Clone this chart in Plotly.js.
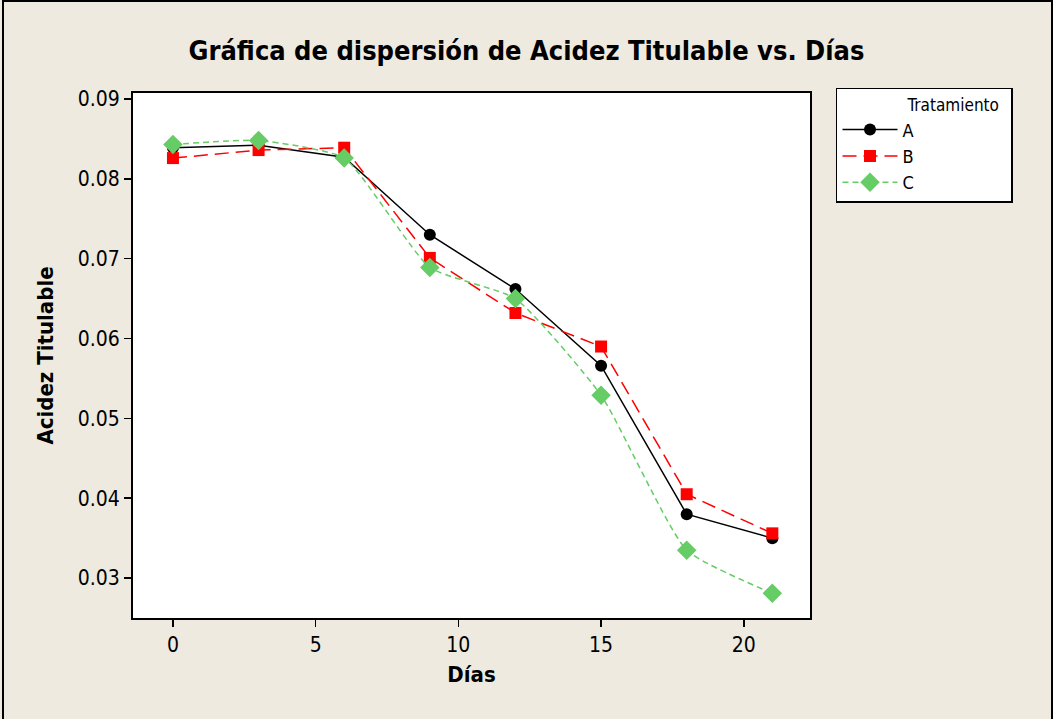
<!DOCTYPE html>
<html><head><meta charset="utf-8">
<script src="https://cdn.plot.ly/plotly-3.0.1.min.js"></script>
<style>
html,body{margin:0;padding:0;background:#EEEAE0;}
#wrap{position:relative;width:1053px;height:719px;overflow:hidden;}
#chart{width:1053px;height:719px;}
#frame{position:absolute;left:2px;top:0px;width:1047px;height:740px;border:2px solid #000;pointer-events:none;}
</style></head>
<body>
<div id="wrap"><div id="chart"></div><div id="frame"></div></div>
<script>
const dias = [0, 3, 6, 9, 12, 15, 18, 21];
const tratA = [0.0839, 0.0842, 0.0827, 0.0730, 0.0662, 0.0566, 0.0380, 0.0350];
const tratB = [0.0826, 0.0836, 0.0839, 0.0701, 0.0632, 0.0590, 0.0405, 0.0356];
const tratC = [0.0843, 0.0848, 0.0826, 0.0689, 0.0650, 0.0529, 0.0335, 0.0281];
const seriesNames = ["A", "B", "C"];
const xTicks = [0, 5, 10, 15, 20];
const yTicks = [0.03, 0.04, 0.05, 0.06, 0.07, 0.08, 0.09];

const font = "DejaVu Sans Condensed, Liberation Sans Narrow, sans-serif";
const traces = [
  {x: dias, y: tratA, name: seriesNames[0], mode: "lines+markers", type: "scatter",
   line: {color: "#000000", width: 1.5},
   marker: {symbol: "circle", size: 12, color: "#000000"}},
  {x: dias, y: tratB, name: seriesNames[1], mode: "lines+markers", type: "scatter",
   line: {color: "#FF0000", width: 1.5, dash: "14px,7px"},
   marker: {symbol: "square", size: 12, color: "#FF0000"}},
  {x: dias, y: tratC, name: seriesNames[2], mode: "lines+markers", type: "scatter",
   line: {color: "#66CC66", width: 1.5, dash: "6px,4px", shape: "spline", smoothing: 0.5},
   marker: {symbol: "diamond", size: 15, color: "#66CC66"}}
];
const layout = {
  width: 1053, height: 719,
  paper_bgcolor: "#EEEAE0", plot_bgcolor: "#FFFFFF",
  margin: {l: 133, r: 243, t: 93, b: 101, pad: 0, autoexpand: false},
  title: {text: "<b>Gráfica de dispersión de Acidez Titulable vs. Días</b>",
          font: {family: font, size: 27, color: "#000"}, x: 0.5, xref: "container", y: 0.93, yref: "container", yanchor: "middle", xanchor: "center"},
  xaxis: {range: [-1.4, 22.32], tickvals: xTicks, ticktext: xTicks.map(String),
          ticks: "outside", ticklen: 7, tickwidth: 1.5, tickcolor: "#000",
          showgrid: false, zeroline: false, showline: true, linecolor: "#000", linewidth: 2, mirror: true,
          tickfont: {family: font, size: 21, color: "#000"},
          title: {text: "<b>Días</b>", font: {family: font, size: 22, color: "#000"}, standoff: 10}},
  yaxis: {range: [0.0250, 0.09075], tickvals: yTicks, ticktext: yTicks.map(v => v.toFixed(2)),
          ticks: "outside", ticklen: 7, tickwidth: 1.5, tickcolor: "#000",
          showgrid: false, zeroline: false, showline: true, linecolor: "#000", linewidth: 2, mirror: true,
          tickfont: {family: font, size: 21, color: "#000"},
          title: {text: "<b>Acidez Titulable</b>", font: {family: font, size: 22, color: "#000"}, standoff: 18}},
  legend: {x: 1.0384, y: 1.01, xanchor: "left", yanchor: "top",
           bgcolor: "#FFFFFF", bordercolor: "#000", borderwidth: 1.5,
           font: {family: font, size: 18, color: "#000"},
           title: {text: "              Tratamiento  ", font: {family: font, size: 17, color: "#000"}},
           tracegroupgap: 0, itemwidth: 55},
  showlegend: true
};
Plotly.newPlot("chart", traces, layout, {displayModeBar: false, staticPlot: true});
</script>
</body></html>
